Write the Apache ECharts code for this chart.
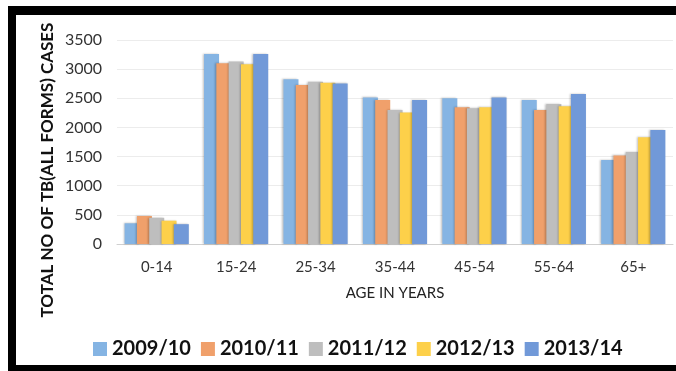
<!DOCTYPE html>
<html>
<head>
<meta charset="utf-8">
<script src="https://cdn.jsdelivr.net/npm/echarts@6/dist/echarts.min.js"></script>
<style>
  html, body { margin: 0; padding: 0; background: #fff; }
  #wrap { position: relative; width: 676px; height: 371px; }
  #chart { position: absolute; left: 0; top: 0; width: 676px; height: 371px; }
  #frame {
    position: absolute; left: 8px; top: 6px; width: 668px; height: 350px;
    border-top: 9px solid #000; border-left: 8px solid #000; border-bottom: 7px solid #000;
    pointer-events: none;
  }
</style>
</head>
<body>
<div id="wrap">
  <div id="chart"></div>
  <div id="frame"></div>
</div>
<script>
// age groups on the x axis
const ageGroups = ['0-14', '15-24', '25-34', '35-44', '45-54', '55-64', '65+'];

// cases per year
const y2009 = [355, 3260, 2825, 2515, 2500, 2470, 1440];
const y2010 = [480, 3100, 2730, 2470, 2345, 2300, 1520];
const y2011 = [450, 3130, 2785, 2300, 2330, 2400, 1580];
const y2012 = [400, 3085, 2765, 2255, 2345, 2365, 1830];
const y2013 = [340, 3260, 2755, 2470, 2515, 2575, 1955];

const seriesNames = ['2009/10', '2010/11', '2011/12', '2012/13', '2013/14'];
const seriesData = [y2009, y2010, y2011, y2012, y2013];
const colors = ['#85b4e3', '#f0a06b', '#bebebe', '#fdd04a', '#7199d8'];

const font = 'Lato, "Open Sans", sans-serif';

let series = seriesData.map((d, i) => ({
  name: seriesNames[i],
  type: 'bar',
  data: d,
  barWidth: 15,
  barGap: '-18%',
  itemStyle: {
    color: colors[i],
    shadowColor: 'rgba(0,0,0,0.25)',
    shadowBlur: 2,
    shadowOffsetX: -1
  }
}));

let option = {
  animation: false,
  color: colors,
  textStyle: { fontFamily: font },
  grid: { left: 117, right: 3, top: 40, bottom: 127 },
  legend: {
    data: seriesNames,
    left: 88,
    top: 334,
    itemWidth: 14,
    itemHeight: 14,
    itemGap: 10,
    icon: 'rect',
    textStyle: { fontFamily: font, fontSize: 20, fontWeight: 'bold', color: '#111' }
  },
  xAxis: {
    type: 'category',
    data: ageGroups,
    name: 'AGE IN YEARS',
    nameLocation: 'middle',
    nameGap: 42,
    nameTextStyle: { fontFamily: font, fontSize: 15, color: '#222' },
    axisTick: { show: false },
    axisLine: { lineStyle: { color: '#d0d0d0' } },
    axisLabel: { fontFamily: font, fontSize: 15, color: '#333', margin: 16 }
  },
  yAxis: {
    type: 'value',
    min: 0,
    max: 3500,
    interval: 500,
    axisLine: { show: false },
    axisTick: { show: false },
    splitLine: { lineStyle: { color: '#ececec' } },
    axisLabel: {
      fontFamily: font, fontSize: 16, color: '#333', margin: 15,
      formatter: v => String(v)
    }
  },
  graphic: [{
    type: 'text',
    x: 48,
    y: 170,
    rotation: Math.PI / 2,
    style: {
      text: 'TOTAL NO OF TB(ALL FORMS) CASES',
      fontFamily: font,
      fontSize: 17,
      fontWeight: 'bold',
      fill: '#111',
      align: 'center',
      verticalAlign: 'middle'
    }
  }],
  series: series
};

const chartObj = echarts.init(document.getElementById('chart'));
chartObj.setOption(option, true);
</script>
</body>
</html>
